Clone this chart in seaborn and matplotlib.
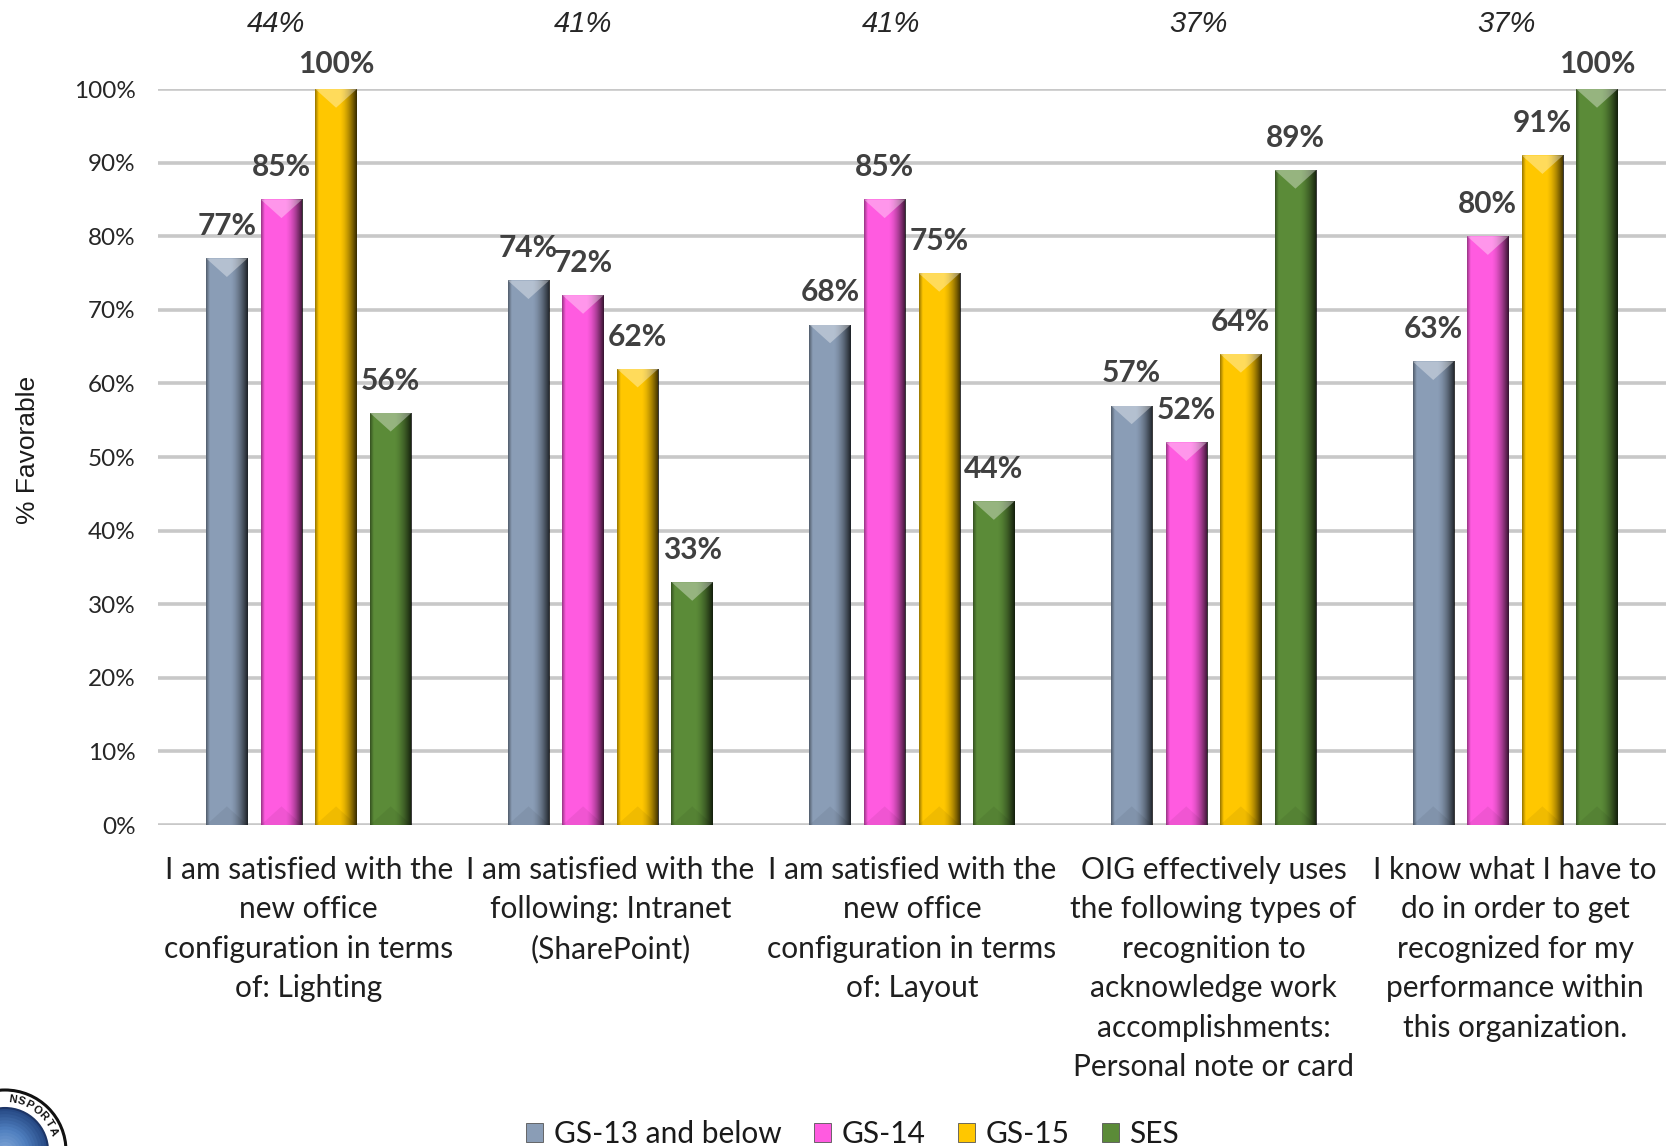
import numpy as np
import pandas as pd
import matplotlib
matplotlib.use("Agg")
import matplotlib.pyplot as plt
import matplotlib.transforms as mtransforms
from matplotlib.patches import Polygon, Circle, Patch
import seaborn as sns

# ---- data -------------------------------------------------------------
questions = [
    "I am satisfied with the\nnew office\nconfiguration in terms\nof: Lighting",
    "I am satisfied with the\nfollowing: Intranet\n(SharePoint)",
    "I am satisfied with the\nnew office\nconfiguration in terms\nof: Layout",
    "OIG effectively uses\nthe following types of\nrecognition to\nacknowledge work\naccomplishments:\nPersonal note or card",
    "I know what I have to\ndo in order to get\nrecognized for my\nperformance within\nthis organization.",
]
grades = ["GS-13 and below", "GS-14", "GS-15", "SES"]
gs13_below = [77, 74, 68, 57, 63]
gs14 = [85, 72, 85, 52, 80]
gs15 = [100, 62, 75, 64, 91]
ses = [56, 33, 44, 89, 100]
overall = [44, 41, 41, 37, 37]

grade_colors = ["#8A9DB6", "#FF5BE0", "#FFC700", "#5B8B38"]

df = pd.DataFrame({
    "question": questions * 4,
    "grade": np.repeat(grades, len(questions)),
    "value": gs13_below + gs14 + gs15 + ses,
})

# ---- figure -----------------------------------------------------------
sns.set_theme(style="white")
plt.rcParams["font.family"] = ["Lato", "DejaVu Sans"]

fig = plt.figure(figsize=(16.77, 11.46), dpi=100)
ax = fig.add_axes([0.0942, 0.2801, 0.8992, 0.6422])

sns.barplot(data=df, x="question", y="value", hue="grade",
            palette=grade_colors, hue_order=grades, order=questions,
            width=0.724, gap=0.24, saturation=1, legend=False,
            edgecolor="none", linewidth=0, zorder=3, ax=ax)

ax.set_xlim(-0.5, len(questions) - 0.5)
ax.set_ylim(0, 100)
ax.set_yticks(np.arange(0, 101, 10))
ax.set_yticklabels([f"{t}%" for t in range(0, 101, 10)],
                   fontsize=17.5, color="#262626")
ax.set_xticks(range(len(questions)))
ax.set_xticklabels(questions, fontsize=21.5, color="#1f1f1f",
                   linespacing=1.5, va="top")
ax.tick_params(axis="x", length=0, pad=22)
ax.tick_params(axis="y", length=0, pad=16)
ax.set_xlabel("")
ax.set_ylabel("% Favorable", family=["Liberation Sans", "DejaVu Sans"],
              fontsize=19, color="#1a1a1a")
ax.yaxis.set_label_coords(-0.0785, 0.51)

ax.yaxis.grid(True, color="#c8c8c8", linewidth=2.6)
ax.xaxis.grid(False)
ax.set_axisbelow(True)
for sp in ax.spines.values():
    sp.set_visible(False)

# ---- shaded bar faces -------------------------------------------------
prof = np.linspace(0, 1, 240)
shade = (0.42 * np.clip(1 - prof / 0.09, 0, 1)
         + 0.80 * np.clip((prof - 0.58) / 0.42, 0, 1) ** 1.6)
shade_img = np.zeros((1, prof.size, 4))
shade_img[..., 3] = shade

data_per_px_x = len(questions) / ax.bbox.width
data_per_px_y = 100.0 / ax.bbox.height

for container in ax.containers:
    for rect in container.patches:
        x0, w, h = rect.get_x(), rect.get_width(), rect.get_height()
        if h <= 0:
            continue
        im = ax.imshow(shade_img, extent=(x0, x0 + w, 0, h), aspect="auto",
                       interpolation="bilinear", zorder=3.2)
        im.set_clip_path(rect)
        depth = 0.45 * (w / data_per_px_x) * data_per_px_y
        ax.add_patch(Polygon([(x0, h), (x0 + w, h), (x0 + w / 2, h - depth)],
                             closed=True, facecolor="white", alpha=0.36,
                             edgecolor="none", zorder=3.4))
        ax.add_patch(Polygon([(x0, 0), (x0 + w, 0), (x0 + w / 2, depth)],
                             closed=True, facecolor="black", alpha=0.06,
                             edgecolor="none", zorder=3.4))

# restore limits after imshow
ax.set_xlim(-0.5, len(questions) - 0.5)
ax.set_ylim(0, 100)

# ---- value labels -----------------------------------------------------
for container, vals in zip(ax.containers, [gs13_below, gs14, gs15, ses]):
    for rect, v in zip(container.patches, vals):
        ax.annotate(f"{v}%", (rect.get_x() + rect.get_width() / 2, v),
                    xytext=(0, 13 if v < 100 else 8),
                    textcoords="offset points", ha="center", va="bottom",
                    fontsize=21.5, fontweight="bold", color="#404040",
                    annotation_clip=False, zorder=5)

for i, v in enumerate(overall):
    ax.text(i - 0.11 + 0.02 * i, 108.8, f"{v}%", ha="center", va="center",
            fontsize=21, fontstyle="italic", color="#262626",
            family=["Liberation Sans", "DejaVu Sans"], clip_on=False)

# ---- legend -----------------------------------------------------------
handles = [Patch(facecolor=c, edgecolor="#555555", linewidth=0.6)
           for c in grade_colors]
fig.legend(handles, grades, loc="center", bbox_to_anchor=(0.5085, 0.0105),
           ncol=4, frameon=False, fontsize=21.5, handlelength=0.56,
           handleheight=0.56, handletextpad=0.35, columnspacing=1.1,
           borderpad=0, labelcolor="#1a1a1a")

# ---- seal in the lower-left corner ------------------------------------
pix = mtransforms.IdentityTransform()
cx, cy, r_out = 5, -5, 61
fig.add_artist(Circle((cx, cy), r_out, transform=pix, facecolor="white",
                      edgecolor="#111111", linewidth=2.2, zorder=1))
blues = sns.blend_palette(["#274a86", "#4f7fbf", "#7ea4d6"], 14)
for k, col in enumerate(blues):
    rr = 43 * (1 - k / 14)
    fig.add_artist(Circle((cx, cy), rr, transform=pix, facecolor=col,
                          edgecolor="none", zorder=2))
fig.add_artist(Circle((cx, cy), 43, transform=pix, facecolor="none",
                      edgecolor="#1d3566", linewidth=1.5, zorder=3))
ring_word = "TRANSPORTATION"
for j, ch in enumerate(ring_word):
    deg = 112 - 10 * j
    if not 18 <= deg <= 84:
        continue
    ang = np.deg2rad(deg)
    fig.text(cx + 52 * np.cos(ang), cy + 52 * np.sin(ang), ch,
             transform=pix, ha="center", va="center",
             fontsize=8, fontweight="bold", color="#111111",
             rotation=deg - 90,
             family=["Liberation Sans", "DejaVu Sans"], zorder=4)

fig.savefig("out.png", dpi=100)
